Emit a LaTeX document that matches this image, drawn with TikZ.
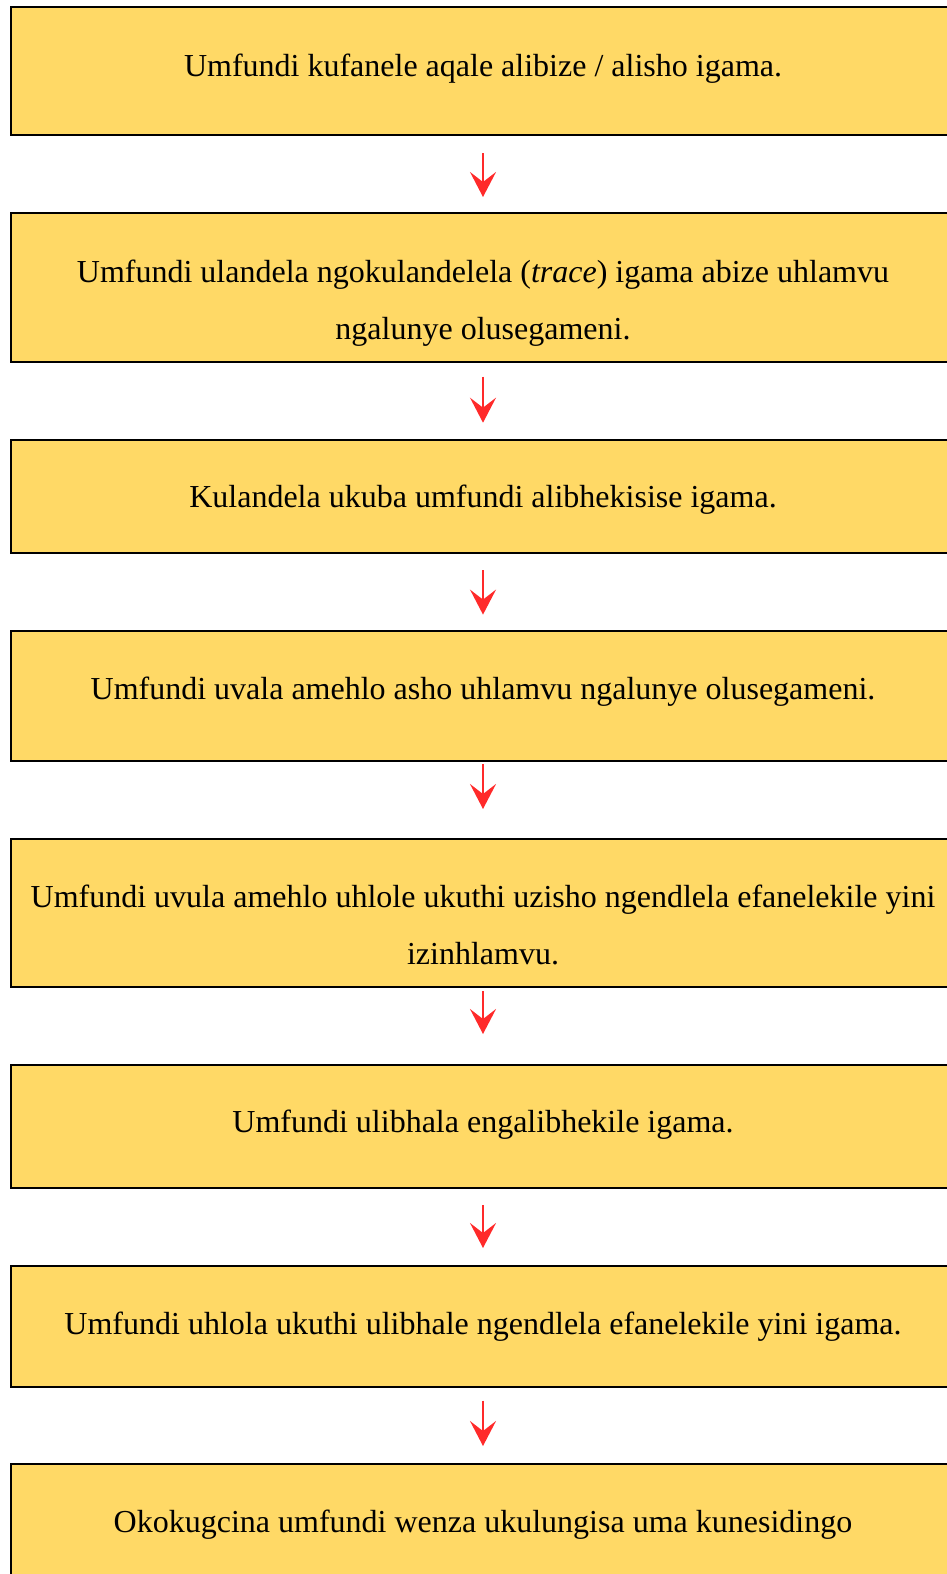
\documentclass[tikz,border=0pt]{standalone}
\usepackage{fontspec}
\setmainfont{Liberation Serif}
\usetikzlibrary{arrows.meta}
\definecolor{boxgold}{HTML}{FFD966}
\definecolor{arrowred}{HTML}{FF2A2A}
\tikzset{
  stepbox/.style = {rectangle, draw=black, fill=boxgold, line width=1pt,
                    minimum width=472pt, minimum height=#1,
                    inner sep=0pt, outer sep=0pt},
  stepbox/.default = 64pt,
  steptext/.style = {anchor=base, align=center, inner sep=0pt,
                     font=\fontsize{16}{28.5}\selectfont},
  steparrow/.style = {draw=arrowred, line width=1.1pt,
                      -{Stealth[length=12.5pt, width=13pt, inset=5pt]}}
}

\begin{document}
\begin{tikzpicture}[x=0.5pt, y=-0.5pt]
	\def \cx{483}
	
	\useasboundingbox (0,0) rectangle (947,1574);
	\clip (0,0) rectangle (947,1574);
	
	% Boxes
	\node[stepbox=64pt]    (b1) at (\cx,71)     {};
	\node[stepbox=74.35pt] (b2) at (\cx,287.35) {};
	\node[stepbox=56.65pt] (b3) at (\cx,496.65) {};
	\node[stepbox=64.85pt] (b4) at (\cx,695.85) {};
	\node[stepbox=74.1pt]  (b5) at (\cx,912.6)  {};
	\node[stepbox=61.65pt] (b6) at (\cx,1126.65) {};
	\node[stepbox=60.5pt]  (b7) at (\cx,1326.2) {};
	\node[stepbox=68pt]    (b8) at (\cx,1532)   {};
	
	% Texts (base = last line)
	\node[steptext] (t1) at (\cx,76)    {Umfundi kufanele aqale alibize / alisho igama.};
	\node[steptext] (t2) at (\cx,339.5) {Umfundi ulandela ngokulandelela (\textit{trace}) igama abize uhlamvu\\ngalunye olusegameni.};
	\node[steptext] (t3) at (\cx,507)   {Kulandela ukuba umfundi alibhekisise igama.};
	\node[steptext] (t4) at (\cx,699.5) {Umfundi uvala amehlo asho uhlamvu ngalunye olusegameni.};
	\node[steptext] (t5) at (\cx,964.5) {Umfundi uvula amehlo uhlole ukuthi uzisho ngendlela efanelekile yini\\izinhlamvu.};
	\node[steptext] (t6) at (\cx,1132)  {Umfundi ulibhala engalibhekile igama.};
	\node[steptext] (t7) at (\cx,1334)  {Umfundi uhlola ukuthi ulibhale ngendlela efanelekile yini igama.};
	\node[steptext] (t8) at (\cx,1532.7) {Okokugcina umfundi wenza ukulungisa uma kunesidingo};
	
	% Arrows
	\draw[steparrow, shorten <=9pt,   shorten >=8pt]    (b1.south) -- (b2.north);
	\draw[steparrow, shorten <=7.5pt, shorten >=8.65pt] (b2.south) -- (b3.north);
	\draw[steparrow, shorten <=8.35pt, shorten >=8.2pt] (b3.south) -- (b4.north);
	\draw[steparrow, shorten <=1.65pt, shorten >=14.75pt] (b4.south) -- (b5.north);
	\draw[steparrow, shorten <=2.15pt, shorten >=15.5pt] (b5.south) -- (b6.north);
	\draw[steparrow, shorten <=8.35pt, shorten >=8.85pt] (b6.south) -- (b7.north);
	\draw[steparrow, shorten <=7pt,   shorten >=9pt]    (b7.south) -- (b8.north);
	
\end{tikzpicture}
\end{document}
